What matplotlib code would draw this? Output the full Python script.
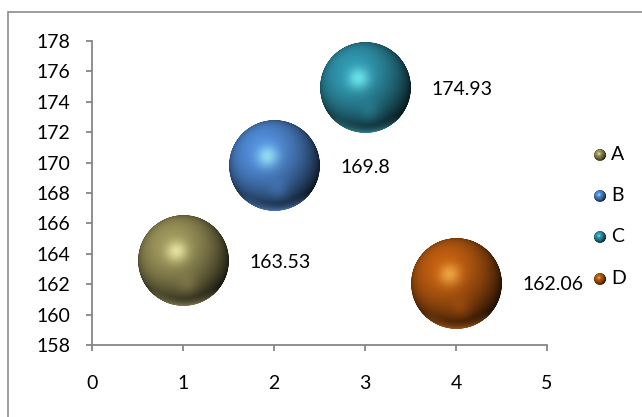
import numpy as np
import matplotlib
matplotlib.use("Agg")
import matplotlib.pyplot as plt
from matplotlib.offsetbox import OffsetImage, AnnotationBbox
from matplotlib.patches import Rectangle

# data
names = ['A', 'B', 'C', 'D']
x_vals = [1, 2, 3, 4]
y_vals = [163.53, 169.8, 174.93, 162.06]
bubble_sizes = [1, 1, 1, 1]
colors = ['#8f8853', '#4a80c6', '#2c8aa0', '#b0560f']

FONT = 'Lato'
FS = 14
MAX_D = 91  # diameter in pixels of the largest bubble
SS = 4      # supersampling for the sphere images


def sphere_img(hex_color, d_px):
    n = int(round(d_px * SS))
    t = (np.arange(n) + 0.5) / n * 2 - 1
    xx, yy = np.meshgrid(t, -t)
    r = np.sqrt(xx**2 + yy**2)
    z = np.sqrt(np.clip(1 - r**2, 0, 1))
    base = np.array(matplotlib.colors.to_rgb(hex_color))

    L = np.array([-0.3, 0.4, 0.87])
    L = L / np.linalg.norm(L)
    dot = xx * L[0] + yy * L[1] + z * L[2]
    diff = np.clip((dot + 0.25) / 1.25, 0, 1) ** 1.3
    H = L + np.array([0, 0, 1.0])
    H = H / np.linalg.norm(H)
    spec = np.clip(xx * H[0] + yy * H[1] + z * H[2], 0, 1) ** 35

    # soft glow in lower middle and light rim at the bottom
    glow = np.exp(-((xx - 0.1) ** 2 + (yy + 0.55) ** 2) / 0.05) * 0.15
    rim = np.clip((-yy - 0.6) / 0.4, 0, 1) * np.clip((r - 0.82) / 0.18, 0, 1) * 0.6

    col = base[None, None, :] * (0.2 + 0.92 * diff[..., None])
    col = col + glow[..., None] * base[None, None, :]
    light = np.clip(base * 1.45 + 0.25, 0, 1)
    col = col * (1 - spec[..., None] * 0.7) + light[None, None, :] * spec[..., None] * 0.7
    col = col * (1 - rim[..., None]) + (base * 1.2 + 0.12)[None, None, :] * rim[..., None]
    col = np.clip(col, 0, 1)

    alpha = np.clip((1 - r) * n / 2 + 0.5, 0, 1)
    return np.dstack([col, alpha])


fig = plt.figure(figsize=(6.42, 4.17), dpi=100)
W, Hh = 642, 417
ax = fig.add_axes([92 / W, (417 - 345) / Hh, (547 - 92) / W, (345 - 41) / Hh])

# chart area border (left and top edges visible)
fig.patches.append(Rectangle((8 / W, -0.05), 1.0, 1.05 - 12 / Hh, transform=fig.transFigure,
                             fill=False, edgecolor='#8c8c8c', linewidth=1.2))

ax.set_xlim(0, 5)
ax.set_ylim(158, 178)
ax.set_xticks(range(0, 6))
ax.set_yticks(range(158, 179, 2))
for side in ['top', 'right']:
    ax.spines[side].set_visible(False)
for side in ['left', 'bottom']:
    ax.spines[side].set_color('#868686')
    ax.spines[side].set_linewidth(1.3)
ax.tick_params(axis='both', direction='out', length=4.5, width=1.3, color='#868686',
               labelsize=FS, labelcolor='black')
ax.tick_params(axis='y', pad=11)
ax.tick_params(axis='x', pad=17)
for lab in ax.get_xticklabels() + ax.get_yticklabels():
    lab.set_fontfamily(FONT)

smax = max(bubble_sizes)
for xv, yv, s, c in zip(x_vals, y_vals, bubble_sizes, colors):
    d = MAX_D * np.sqrt(s / smax)
    oi = OffsetImage(sphere_img(c, d), zoom=1 / SS, dpi_cor=False)
    ab = AnnotationBbox(oi, (xv, yv), frameon=False, pad=0, annotation_clip=False)
    ax.add_artist(ab)
    ax.annotate(f'{yv:g}', (xv, yv), xytext=(48, -1), textcoords='offset points',
                ha='left', va='center', fontsize=FS, fontfamily=FONT)

# legend with small spheres
leg_y = [155, 196, 237, 279]
for name, c, ly in zip(names, colors, leg_y):
    oi = OffsetImage(sphere_img(c, 12), zoom=1 / SS, dpi_cor=False)
    ab = AnnotationBbox(oi, (600, Hh - ly), xycoords='figure pixels', frameon=False, pad=0,
                        annotation_clip=False)
    fig.add_artist(ab)
    fig.text(611 / W, (Hh - ly) / Hh, name, ha='left', va='center', fontsize=FS,
             fontfamily=FONT)

fig.savefig('out.png', dpi=100)
